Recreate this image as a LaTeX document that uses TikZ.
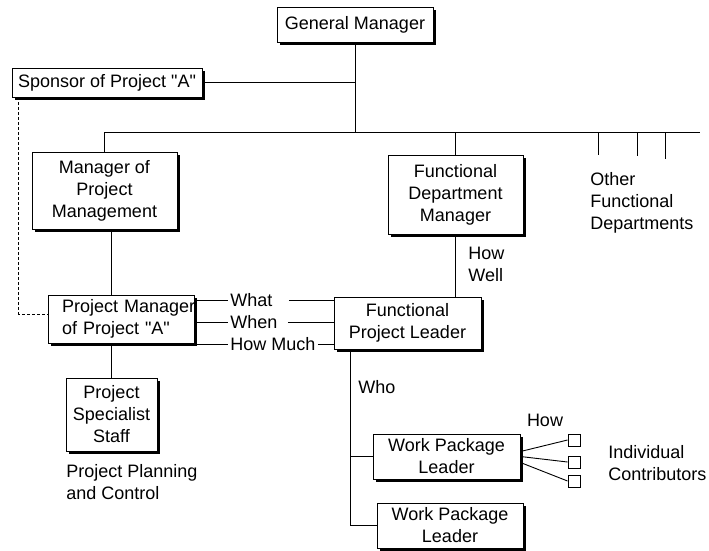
\documentclass[tikz,border=0pt]{standalone}
\usepackage{fontspec}
\setmainfont{Liberation Sans}
\usetikzlibrary{shadows}
\begin{document}
\begin{tikzpicture}[x=1pt,y=-1pt,line width=0.9pt,font=\fontsize{18}{22}\selectfont,
	box/.style={draw,fill=white,align=center,inner sep=0pt,drop shadow={shadow xshift=3pt,shadow yshift=-3pt,fill=black,opacity=1}},
	lab/.style={anchor=west,inner xsep=2pt,inner ysep=1pt},
	txt/.style={align=left,anchor=west,inner sep=0pt},
	sq/.style={draw,fill=white,minimum size=12pt,inner sep=0pt}]
		\useasboundingbox (0,0) rectangle (709,550);
		\node[box,minimum width=156pt,minimum height=35pt] (gm) at (355,24.5) {General Manager};
		\node[box,minimum width=190pt,minimum height=29pt] (sp) at (107,82.5) {Sponsor of Project \textquotedbl A\textquotedbl};
		\node[box,minimum width=145pt,minimum height=77pt] (mpm) at (104.5,190.5) {Manager of\\Project\\Management};
		\node[box,minimum width=135pt,minimum height=79pt] (fdm) at (455.5,194.5) {Functional\\Department\\Manager};
		\node[box,inner xsep=14pt,text width=118pt,minimum height=48pt,align=left] (pm) at (121,319) {\mbox{Project Manager}\\of Project \textquotedbl A\textquotedbl};
		\node[box,minimum width=147pt,minimum height=52pt] (fpl) at (407.5,323) {Functional\\Project Leader};
		\node[box,minimum width=91pt,minimum height=73pt] (pss) at (111.5,414.5) {Project\\Specialist\\Staff};
		\node[box,minimum width=147pt,minimum height=45pt] (wp1) at (446.5,456.5) {Work Package\\Leader};
		\node[box,minimum width=146pt,minimum height=45pt] (wp2) at (450,525.5) {Work Package\\Leader};
		\coordinate (bus) at (700,132);
		\draw (mpm.north |- bus) -- (bus);
		\draw (gm) -- (gm |- bus);
		\draw (sp.east) -- (sp.east -| gm);
		\draw (mpm.north) -- (mpm.north |- bus);
		\draw (fdm.north) -- (fdm.north |- bus);
		\foreach \x/\y in {598/155,637/156,665/159} \draw (\x,132) -- (\x,\y);
		\node[txt] (oth) at (590,203) {Other\\Functional\\Departments};
		\draw (fdm.south) -- (fdm.south |- fpl.north);
		\node[txt] (hw) at (468,264) {How\\Well};
		\draw (pss.north |- mpm.south) -- (pss.north |- pm.north);
		\draw (pss.north |- pm.south) -- (pss.north);
		\node[txt] (ppc) at (66,482) {Project Planning\\and Control};
		\draw[densely dashed,line width=0.6pt] ([xshift=7pt]sp.south west) |- ([yshift=5pt]pm.west);
		\node[lab,text width=56pt] (what) at (228,300) {What};
		\node[lab,text width=55pt] (when) at (228,322) {When};
		\node[lab] (much) at (228,344) {How Much};
		\foreach \n in {what,when,much} {
			\draw (\n.west -| pm.east) -- (\n.west);
			\draw (\n.east) -- (\n.east -| fpl.west);
		}
		\coordinate (who) at (350,349);
		\draw (who) -- (who |- wp2.west);
		\draw (who |- wp1.west) -- (wp1.west);
		\draw (who |- wp2.west) -- (wp2.west);
		\node[txt] (wholab) at (358,387) {Who};
		\node (how) at (545,420) {How};
		\foreach \i/\y/\s in {1/440/5,2/462/0,3/481/-6} {
			\node[sq] (c\i) at (574,\y) {};
			\draw ([yshift=\s pt]wp1.east) -- (c\i.west);
		}
		\node[txt] (ic) at (608,463) {Individual\\Contributors};
\end{tikzpicture}
\end{document}
